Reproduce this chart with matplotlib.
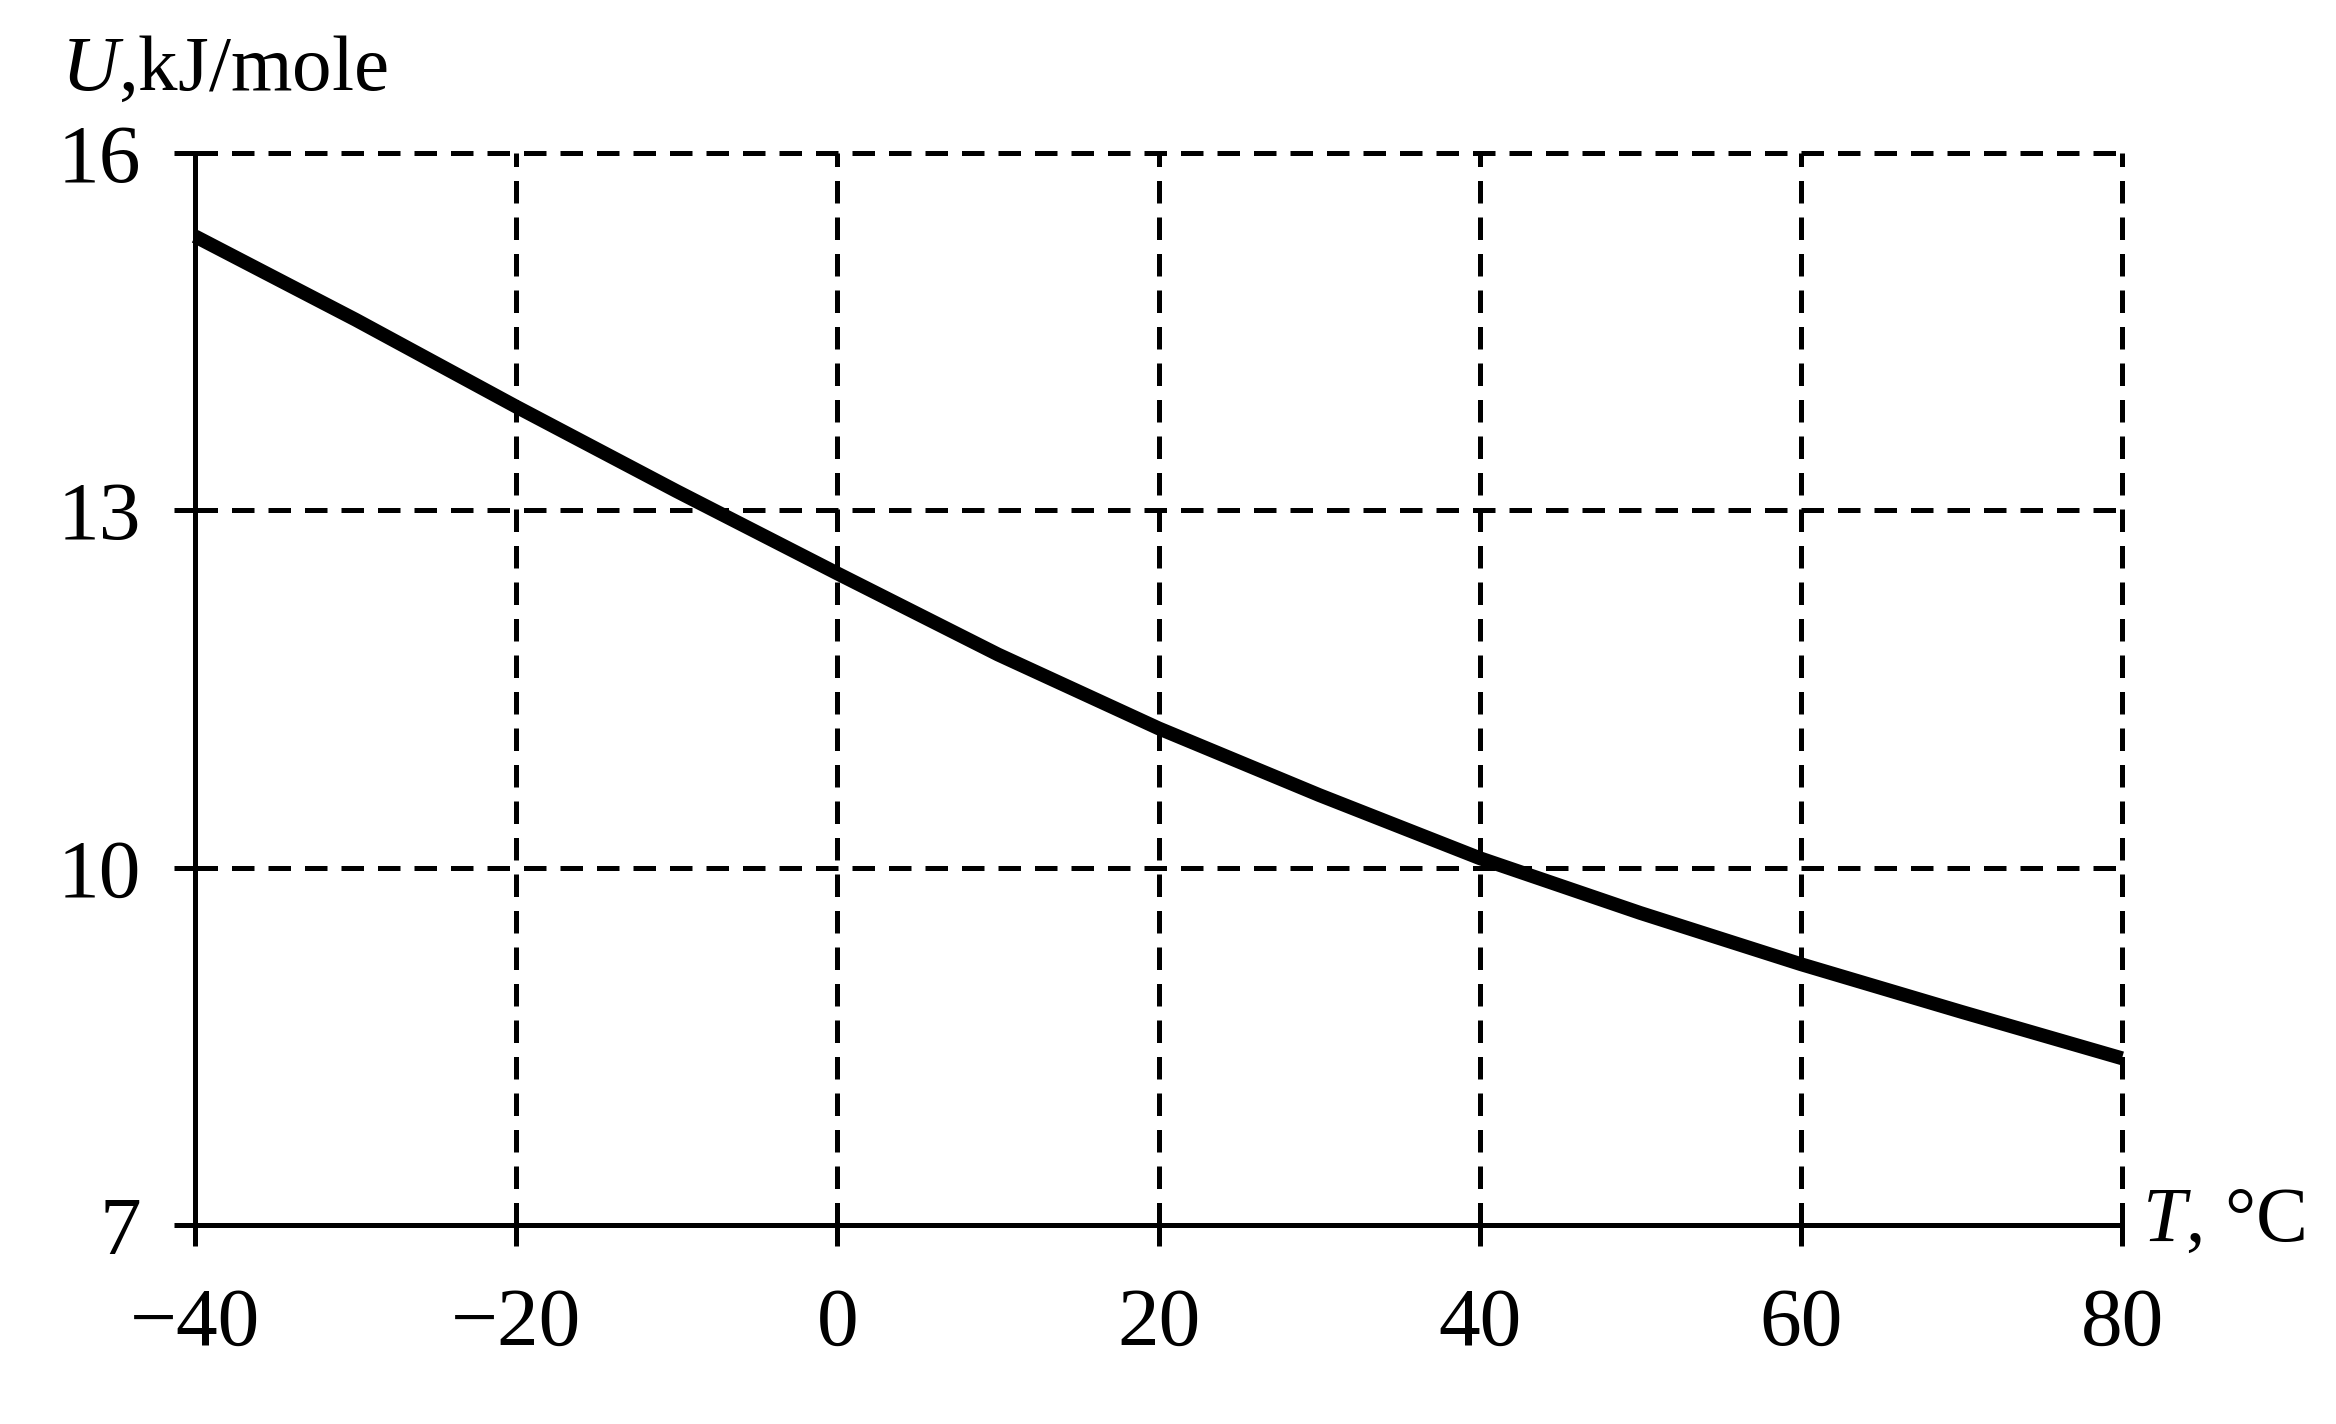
import numpy as np
import matplotlib.pyplot as plt

# Werte
temperatur = [-40, -30, -20, -10, 0, 10, 20, 30, 40, 50, 60, 70, 80]
energie = [15.3, 14.6, 13.87, 13.16, 12.47, 11.79, 11.17, 10.61, 10.08, 9.62, 9.19, 8.79, 8.4]

x_ticks = [-40, -20, 0, 20, 40, 60, 80]
y_ticks = [7, 10, 13, 16]

plt.rcParams['font.family'] = ['Liberation Serif', 'DejaVu Serif']
plt.rcParams['mathtext.fontset'] = 'custom'
plt.rcParams['mathtext.rm'] = 'Liberation Serif'
plt.rcParams['mathtext.it'] = 'Liberation Serif:italic'

fig = plt.figure(figsize=(23.36, 14.24), dpi=100)
ax = fig.add_axes([0.0835, 0.1397, 0.8249, 0.7529])

ax.plot(temperatur, energie, color='black', linewidth=10, solid_capstyle='butt',
        solid_joinstyle='round', clip_on=False, zorder=3)

ax.set_xlim(-40, 80)
ax.set_ylim(7, 16)
ax.set_xticks(x_ticks)
ax.set_yticks(y_ticks)

# Gitter gestrichelt
ax.grid(True, color='black', linewidth=3.6, dashes=(4.5, 2.8))
for line in ax.get_xgridlines() + ax.get_ygridlines():
    line.set_clip_on(False)

ax.spines['top'].set_visible(False)
ax.spines['right'].set_visible(False)
ax.spines['left'].set_linewidth(3.6)
ax.spines['bottom'].set_linewidth(3.6)
ax.tick_params(axis='both', direction='out', length=15, width=3.6, labelsize=60, colors='black')
ax.tick_params(axis='x', pad=30)
ax.tick_params(axis='y', pad=24)

# Achsenbeschriftungen
fig.text(0.026, 0.950, r'$U$,kJ/mole', fontsize=57, ha='left', va='center')
fig.text(0.917, 0.142, r'$T$, °C', fontsize=56, ha='left', va='center')

plt.savefig('out.png', dpi=100)
